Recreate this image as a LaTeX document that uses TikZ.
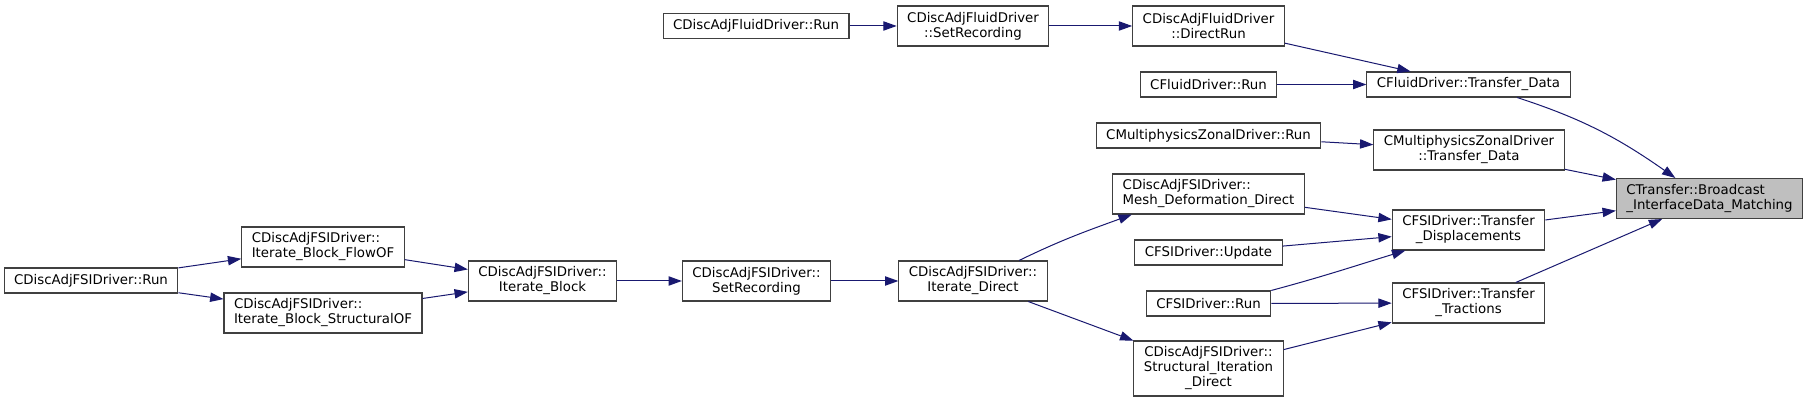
\documentclass[tikz,border=0pt]{standalone}
\usepackage{fontspec}
\setmainfont{DejaVu Sans}
\usepackage{tikz}
\usetikzlibrary{arrows.meta}
\definecolor{edgeblue}{RGB}{25, 25, 112}
\definecolor{boxline}{RGB}{64, 64, 64}
\definecolor{rootfill}{RGB}{191, 191, 191}

\tikzset{
    fnbox/.style={
        draw=boxline,
        line width=0.8pt,
        fill=white,
        inner xsep=7.5pt,
        inner ysep=1pt,
        minimum height=18.75pt,
        font=\fontsize{10}{11.25}\selectfont,
        align=center
    },
    lines2/.style={minimum height=30pt},
    lines3/.style={minimum height=41.25pt},
    rootbox/.style={fnbox, fill=rootfill},
    calls/.style={
        draw=edgeblue,
        line width=0.75pt,
        -{Triangle[length=10pt,width=7pt]}
    }
}

\begin{document}
\begin{tikzpicture}[x=0.75pt, y=-0.75pt]
\fill[white] (0,0) rectangle (1808,402);

\node[fnbox] (fluidrun) at (756,26) {CDiscAdjFluidDriver::Run};
\node[fnbox, lines2] (fluidrec) at (973,26) {CDiscAdjFluidDriver\\::SetRecording};
\node[fnbox, lines2] (fluiddirect) at (1208.5,26) {CDiscAdjFluidDriver\\::DirectRun};
\node[fnbox] (cfluidrun) at (1208.5,84.5) {CFluidDriver::Run};
\node[fnbox] (cfluidtransfer) at (1468.5,84.5) {CFluidDriver::Transfer\_Data};
\node[fnbox] (zonalrun) at (1208.5,135.5) {CMultiphysicsZonalDriver::Run};
\node[fnbox, lines2] (zonaltransfer) at (1469,150) {CMultiphysicsZonalDriver\\::Transfer\_Data};
\node[rootbox, lines2, align=left] (broadcast) at (1709.5,198.5) {CTransfer::Broadcast\\\_InterfaceData\_Matching};
\node[fnbox, lines2, align=left] (meshdef) at (1208.5,194) {CDiscAdjFSIDriver::\\Mesh\_Deformation\_Direct};
\node[fnbox] (fsiupdate) at (1208.5,252.5) {CFSIDriver::Update};
\node[fnbox, lines2] (displ) at (1468.5,230) {CFSIDriver::Transfer\\\_Displacements};
\node[fnbox] (fsirun) at (1208.5,303.5) {CFSIDriver::Run};
\node[fnbox, lines2] (tractions) at (1468.5,303) {CFSIDriver::Transfer\\\_Tractions};
\node[fnbox, lines3] (structiter) at (1208.5,368.5) {CDiscAdjFSIDriver::\\Structural\_Iteration\\\_Direct};
\node[fnbox, lines2] (iterdirect) at (973,281) {CDiscAdjFSIDriver::\\Iterate\_Direct};
\node[fnbox, lines2] (fsirec) at (756.5,281) {CDiscAdjFSIDriver::\\SetRecording};
\node[fnbox, lines2] (iterblock) at (542.5,281) {CDiscAdjFSIDriver::\\Iterate\_Block};
\node[fnbox, lines2, align=left] (flowof) at (323,247) {CDiscAdjFSIDriver::\\Iterate\_Block\_FlowOF};
\node[fnbox, lines2, align=left] (structof) at (323,313) {CDiscAdjFSIDriver::\\Iterate\_Block\_StructuralOF};
\node[fnbox] (adjfsirun) at (91,280.5) {CDiscAdjFSIDriver::Run};

\draw[calls] (fluidrun) -- (fluidrec);
\draw[calls] (fluidrec) -- (fluiddirect);
\draw[calls] (fluiddirect) -- (cfluidtransfer);
\draw[calls] (cfluidrun) -- (cfluidtransfer);
\draw[calls] (cfluidtransfer.-15) to[out=-18, in=145] (broadcast.149);
\draw[calls] (zonalrun) -- (zonaltransfer);
\draw[calls] (zonaltransfer) -- (broadcast);
\draw[calls] (meshdef) -- (displ);
\draw[calls] (fsiupdate) -- (displ);
\draw[calls] (fsirun.north east) to[out=15, in=197] (displ.198);
\draw[calls] (fsirun) -- (tractions);
\draw[calls] (structiter) -- (tractions);
\draw[calls] (displ) -- (broadcast);
\draw[calls] (tractions) -- (broadcast);
\draw[calls] (iterdirect.24) to[out=26, in=200] (meshdef.-165);
\draw[calls] (iterdirect) -- (structiter);
\draw[calls] (fsirec) -- (iterdirect);
\draw[calls] (iterblock) -- (fsirec);
\draw[calls] (flowof) -- (iterblock);
\draw[calls] (structof) -- (iterblock);
\draw[calls] (adjfsirun) -- (flowof);
\draw[calls] (adjfsirun) -- (structof);
\end{tikzpicture}
\end{document}
